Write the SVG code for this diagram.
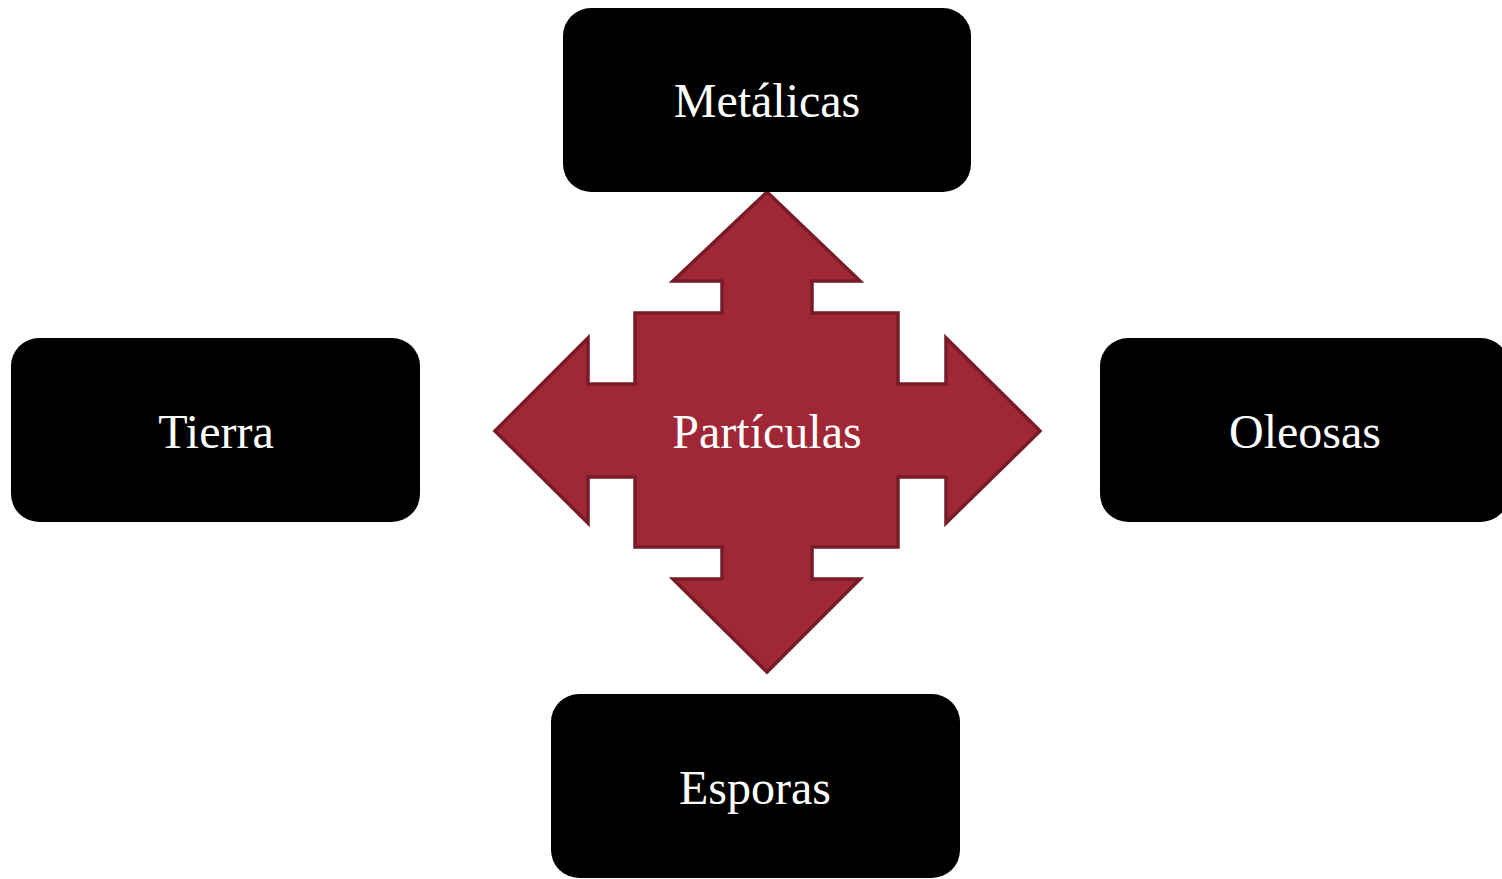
<svg xmlns="http://www.w3.org/2000/svg" width="1502" height="879" viewBox="0 0 1502 879">
  <style>
    .box { fill: #000000; }
    .label { font-family: "Liberation Serif", "Times New Roman", serif; font-size: 48px; fill: #ffffff; text-anchor: middle; }
    .hub { fill: #a02736; stroke: #771c27; stroke-width: 3.5; stroke-linejoin: miter; }
  </style>
  <rect width="1502" height="879" fill="#ffffff"/>

  <!-- central four-way arrow -->
  <g id="particulas">
    <path class="hub" d="M767,192 L860,281 L812,281 L812,313 L898,313 L898,384 L946,384 L946,338 L1040,431 L946,523 L946,477 L898,477 L898,547 L812,547 L812,579 L860,579 L767,672 L673,579 L722,579 L722,547 L635,547 L635,477 L588,477 L588,523 L495,431 L588,338 L588,384 L635,384 L635,313 L722,313 L722,281 L673,281 Z"/>
    <text class="label" x="767" y="448">Partículas</text>
  </g>

  <g id="metalicas">
    <rect class="box" x="563" y="8" width="408" height="184" rx="28" ry="28"/>
    <text class="label" x="767" y="117">Metálicas</text>
  </g>

  <g id="tierra">
    <rect class="box" x="11" y="338" width="409" height="184" rx="28" ry="28"/>
    <text class="label" x="216" y="448">Tierra</text>
  </g>

  <g id="oleosas">
    <rect class="box" x="1100" y="338" width="409" height="184" rx="28" ry="28"/>
    <text class="label" x="1305" y="448">Oleosas</text>
  </g>

  <g id="esporas">
    <rect class="box" x="551" y="694" width="409" height="184" rx="28" ry="28"/>
    <text class="label" x="755" y="804">Esporas</text>
  </g>

  <g id="connectors"/>
</svg>
